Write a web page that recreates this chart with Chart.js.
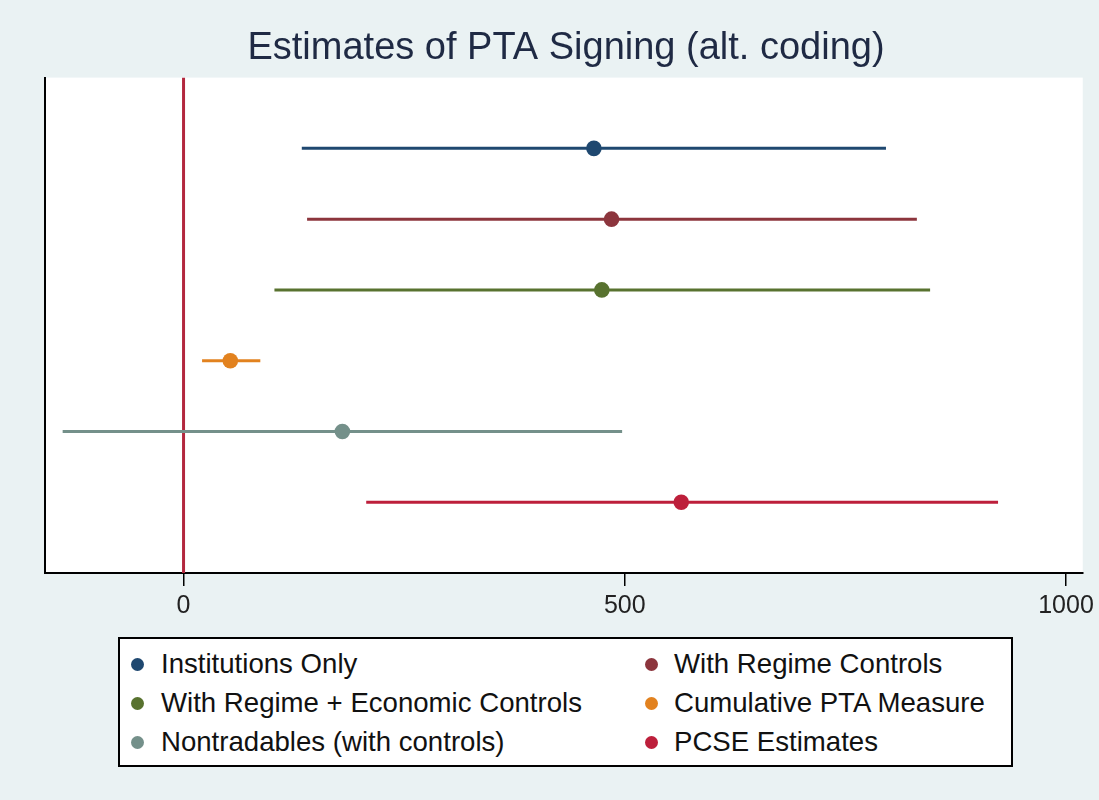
<!DOCTYPE html>
<html>
<head>
<meta charset="utf-8">
<title>Estimates of PTA Signing (alt. coding)</title>
<script src="https://cdn.jsdelivr.net/npm/chart.js@4.4.1/dist/chart.umd.min.js"></script>
<style>
  html, body { margin: 0; padding: 0; background: #eaf2f3; }
  body { width: 1099px; height: 800px; position: relative; overflow: hidden; font-family: "Liberation Sans", Arial, sans-serif; }
  #chart { position: absolute; left: 0; top: 0; }
  #legend {
    position: absolute; left: 118px; top: 637px; width: 895px; height: 130px;
    box-sizing: border-box; border: 2px solid #000; background: #fff;
  }
  .item { position: absolute; font-size: 27.6px; color: #111; white-space: nowrap; line-height: 30px; }
  .dot { position: absolute; width: 13px; height: 13px; border-radius: 50%; }
</style>
</head>
<body>
<canvas id="chart" width="1099" height="630"></canvas>
<div id="legend"></div>
<script>
// ---- data ----
const models = [
  'Institutions Only',
  'With Regime Controls',
  'With Regime + Economic Controls',
  'Cumulative PTA Measure',
  'Nontradables (with controls)',
  'PCSE Estimates',
];
const estimates = [465, 485, 474, 53, 180, 564];
const lower = [134, 140, 103, 21, -137, 207];
const upper = [796, 831, 846, 87, 497, 923];
const xTicks = [0, 500, 1000];

const colors = ['#1f4870', '#8c353d', '#58722f', '#e2821f', '#74908a', '#bd1f3b'];
const refLineColor = '#b3283e';

// one dataset per model: lower -> estimate -> upper, marker only on estimate
const datasets = models.map((name, i) => ({
  type: 'line',
  label: name,
  data: [
    { x: lower[i], y: i + 1 },
    { x: estimates[i], y: i + 1 },
    { x: upper[i], y: i + 1 },
  ],
  borderColor: colors[i],
  backgroundColor: colors[i],
  borderWidth: 3,
  borderCapStyle: 'butt',
  pointRadius: ctx => (ctx.dataIndex === 1 ? 7.8 : 0),
  pointHoverRadius: ctx => (ctx.dataIndex === 1 ? 7.8 : 0),
  pointBorderWidth: 0,
  order: 1,
}));

// vertical reference line at zero
datasets.push({
  type: 'line',
  label: 'zero',
  data: [{ x: 0, y: 0 }, { x: 0, y: models.length + 1 }],
  borderColor: refLineColor,
  borderWidth: 3,
  pointRadius: 0,
  order: 2,
});

const plotBackground = {
  id: 'plotBackground',
  beforeDraw(chart) {
    const { ctx, chartArea: a } = chart;
    ctx.save();
    ctx.fillStyle = '#ffffff';
    ctx.fillRect(a.left, a.top, a.right - a.left, a.bottom - a.top);
    ctx.restore();
  },
};

new Chart(document.getElementById('chart'), {
  type: 'line',
  data: { datasets },
  options: {
    responsive: false,
    animation: false,
    devicePixelRatio: 1,
    layout: { padding: { left: 45, right: 12, top: 0, bottom: 7 } },
    plugins: {
      legend: { display: false },
      tooltip: { enabled: false },
      title: {
        display: true,
        text: 'Estimates of PTA Signing (alt. coding)',
        color: '#1f2a44',
        font: { family: '"Liberation Sans", Arial, sans-serif', size: 38, weight: 'normal' },
        padding: { top: 26, bottom: 6 },
      },
    },
    scales: {
      x: {
        type: 'linear',
        min: -157,
        max: 1019,
        afterBuildTicks: s => { s.ticks = xTicks.map(v => ({ value: v })); },
        afterFit: s => { s.height = 50; },
        grid: { drawOnChartArea: false, drawTicks: true, tickLength: 13, color: '#000', lineWidth: 1.5 },
        border: { display: true, color: '#000', width: 2 },
        ticks: {
          color: '#222',
          padding: 5,
          maxRotation: 0,
          callback: v => String(v),
          font: { family: '"Liberation Sans", Arial, sans-serif', size: 25 },
        },
      },
      y: {
        type: 'linear',
        min: 0,
        max: models.length + 1,
        reverse: true,
        afterFit: s => { s.width = 0; },
        grid: { display: false },
        border: { display: true, color: '#000', width: 2 },
        ticks: { display: false },
      },
    },
  },
  plugins: [plotBackground],
});

// legend box: two columns, filled row by row
const legend = document.getElementById('legend');
const colText = [41, 554];
const colDot = [11, 525];
const rowMid = [25, 64, 103];
models.forEach((name, i) => {
  const c = i % 2, r = Math.floor(i / 2);
  const dot = document.createElement('div');
  dot.className = 'dot';
  dot.style.background = colors[i];
  dot.style.left = colDot[c] + 'px';
  dot.style.top = (rowMid[r] - 6.5) + 'px';
  legend.appendChild(dot);
  const item = document.createElement('div');
  item.className = 'item';
  item.textContent = name;
  item.style.left = colText[c] + 'px';
  item.style.top = (rowMid[r] - 15) + 'px';
  legend.appendChild(item);
});
</script>
</body>
</html>
